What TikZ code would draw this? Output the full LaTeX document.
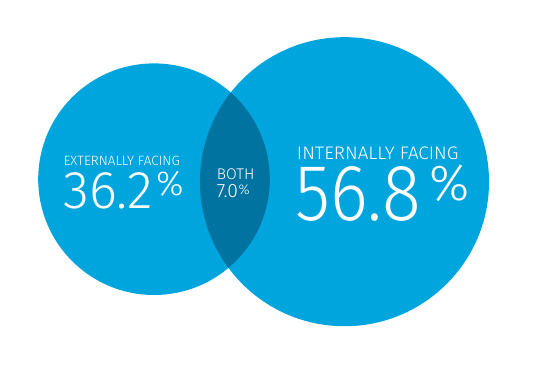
\documentclass[tikz,border=0pt]{standalone}
\usepackage{fontspec}
\setmainfont{Fira Sans Light}
\usetikzlibrary{positioning}
\definecolor{vennblue}{RGB}{0,165,222}
\definecolor{venndark}{RGB}{0,115,160}
\tikzset{
  vtext/.style={text=white, inner sep=0pt, anchor=south west},
  pct/.style={text=white, inner sep=0pt, anchor=north west}
}

\begin{document}
\begin{tikzpicture}[x=0.75pt, y=-0.75pt]
  \useasboundingbox[fill=white] (0,0) rectangle (547,367);
  % circles
  \coordinate (extc) at (154,179.2);
  \coordinate (intc) at (344.5,181.7);
  \fill[vennblue] (extc) circle[radius=86.85pt];
  \fill[vennblue] (intc) circle[radius=108.4pt];
  \begin{scope}
    \clip (extc) circle[radius=86.85pt];
    \fill[venndark] (intc) circle[radius=108.4pt];
  \end{scope}

  % left set
  \node[vtext, font=\fontsize{10.1}{12}\selectfont] (exttitle) at (63.3,166) {EXTERNALLY FACING};
  \node[vtext, font=\fontsize{39.8}{44}\selectfont] (extnum) at (63.3,209.3) {36.2};
  \node[pct, font=\fontsize{26}{30}\selectfont] (extpct) at ([xshift=2pt,yshift=1pt]extnum.north east) {\%};

  % overlap
  \node[vtext, font=\fontsize{11.6}{14}\selectfont] (bothtitle) at (216.7,180) {BOTH};
  \node[vtext, font=\fontsize{14.5}{17}\selectfont] (bothnum) at (216.7,198.3) {7.0};
  \node[pct, font=\fontsize{10.5}{12}\selectfont] (bothpct) at ([xshift=0pt]bothnum.north east) {\%};

  % right set
  \node[vtext, xscale=1.04, font=\fontsize{13.6}{16}\selectfont] (inttitle) at (296.7,160) {INTERNALLY FACING};
  \node[vtext, xscale=0.9, font=\fontsize{59.9}{66}\selectfont] (intnum) at (295,221.7) {56.8};
  \node[pct, font=\fontsize{38}{44}\selectfont] (intpct) at ([xshift=6pt,yshift=1pt]intnum.north east) {\%};
\end{tikzpicture}
\end{document}
